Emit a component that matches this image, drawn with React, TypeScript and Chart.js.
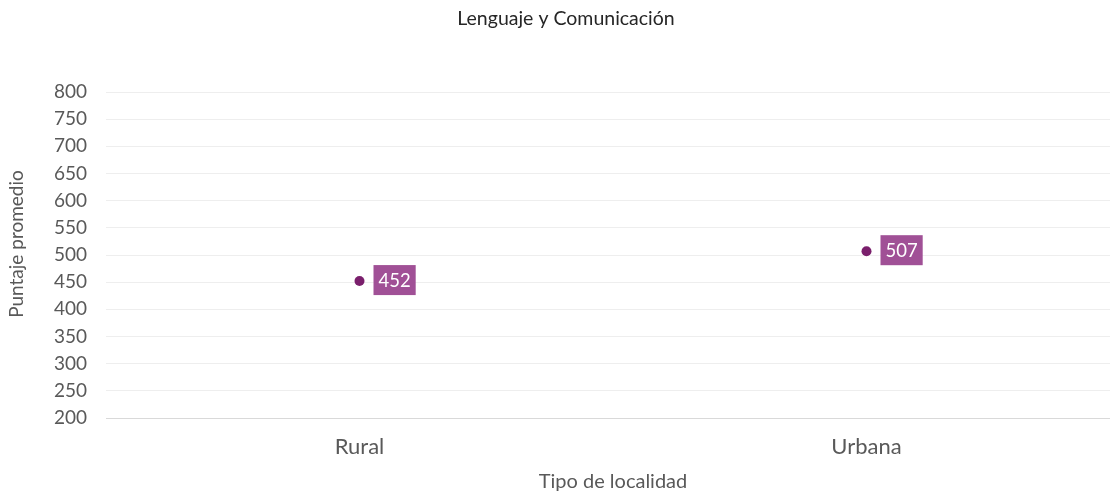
import React, { useEffect, useRef } from "react";
import { Chart, registerables } from "chart.js";

Chart.register(...registerables);

const chartTitle = "Lenguaje y Comunicación";
const categories = ["Rural", "Urbana"];
const scores = [452, 507];
const yTitle = "Puntaje promedio";
const xTitle = "Tipo de localidad";
const yMin = 200;
const yMax = 800;
const yStep = 50;

const FONT = "Lato, 'Open Sans', sans-serif";
const POINT_COLOR = "#7a1f6c";
const LABEL_BG = "#a05096";
const AXIS_TEXT = "#595959";

const overlayPlugin = {
  id: "overlay",
  afterDatasetsDraw(chart: any) {
    const ctx = chart.ctx;
    ctx.save();
    // chart title
    ctx.fillStyle = "#262626";
    ctx.font = `19.5px ${FONT}`;
    ctx.textAlign = "center";
    ctx.textBaseline = "middle";
    ctx.fillText(chartTitle, 566, 19);
    // y axis title, centred on the whole chart height
    ctx.save();
    ctx.translate(17, 244);
    ctx.rotate(-Math.PI / 2);
    ctx.fillStyle = AXIS_TEXT;
    ctx.font = `19px ${FONT}`;
    ctx.fillText(yTitle, 0, 0);
    ctx.restore();
    // data labels
    const meta = chart.getDatasetMeta(0);
    ctx.font = `18.5px ${FONT}`;
    meta.data.forEach((pt: any, i: number) => {
      const txt = String(scores[i]);
      const w = ctx.measureText(txt).width + 10;
      const h = 30;
      const x0 = pt.x + 14;
      const y0 = pt.y - h / 2 - 1;
      ctx.fillStyle = LABEL_BG;
      ctx.fillRect(x0, y0, w, h);
      ctx.fillStyle = "#ffffff";
      ctx.textAlign = "left";
      ctx.textBaseline = "middle";
      ctx.fillText(txt, x0 + 5, pt.y);
    });
    ctx.restore();
  },
};

export default function App() {
  const ref = useRef<HTMLCanvasElement>(null);
  useEffect(() => {
    if (!ref.current) return;
    const chart = new Chart(ref.current, {
      type: "line",
      data: {
        labels: categories,
        datasets: [
          {
            data: scores,
            showLine: false,
            pointStyle: "circle",
            pointRadius: 5,
            pointHoverRadius: 5,
            pointBackgroundColor: POINT_COLOR,
            pointBorderColor: POINT_COLOR,
            pointBorderWidth: 0,
          },
        ],
      },
      options: {
        animation: false,
        responsive: false,
        maintainAspectRatio: false,
        layout: { padding: { top: 92, right: 10, bottom: 0, left: 0 } },
        plugins: {
          legend: { display: false },
          tooltip: { enabled: false },
          title: { display: false },
        },
        scales: {
          x: {
            type: "category",
            offset: true,
            grid: { display: false, drawTicks: false },
            border: { display: true, color: "#d9d9d9" },
            ticks: {
              color: AXIS_TEXT,
              font: { family: FONT, size: 22 },
              padding: 16,
            },
            title: {
              display: true,
              text: xTitle,
              color: AXIS_TEXT,
              font: { family: FONT, size: 20, lineHeight: 1 },
              padding: { top: 4, bottom: 0 },
            },
            afterFit(scale: any) {
              scale.height = 74;
            },
          },
          y: {
            min: yMin,
            max: yMax,
            grid: {
              drawTicks: false,
              color: (c: any) =>
                c.tick && c.tick.value === yMin ? "#d9d9d9" : "#eeeeee",
              lineWidth: 1,
            },
            border: { display: false },
            ticks: {
              stepSize: yStep,
              color: AXIS_TEXT,
              font: { family: FONT, size: 19 },
              padding: 19,
            },
            title: { display: false },
            afterFit(scale: any) {
              scale.width = 106;
            },
          },
        },
      },
      plugins: [overlayPlugin],
    });
    return () => chart.destroy();
  }, []);
  return (
    <div
      style={{
        position: "absolute",
        left: 0,
        top: 0,
        width: 1110,
        height: 492,
        overflow: "hidden",
        background: "#fff",
      }}
    >
      <canvas ref={ref} width={1130} height={492} style={{ display: "block" }} />
    </div>
  );
}
